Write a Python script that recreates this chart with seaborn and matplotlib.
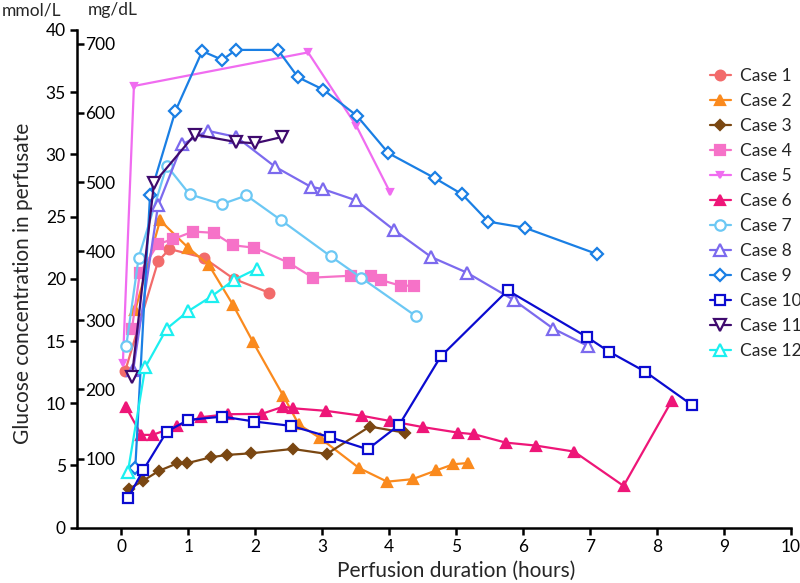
import matplotlib
matplotlib.use("Agg")
import matplotlib.pyplot as plt
import seaborn as sns
import pandas as pd

sns.set_style("white")
plt.rcParams['font.family'] = ['Lato', 'DejaVu Sans']

case_names = [f"Case {i}" for i in range(1, 13)]

case1_x = [0.06, 0.55, 0.72, 1.23, 1.68, 2.20]
case1_y = [12.6, 21.4, 22.4, 21.7, 20.0, 18.9]
case2_x = [0.21, 0.58, 1.0, 1.31, 1.67, 1.97, 2.42, 2.65, 2.97, 3.55, 3.97, 4.35, 4.70, 4.96, 5.18]
case2_y = [17.5, 24.7, 22.5, 21.1, 17.9, 14.9, 10.6, 8.3, 7.2, 4.8, 3.7, 3.9, 4.6, 5.1, 5.2]
case3_x = [0.11, 0.32, 0.56, 0.84, 0.98, 1.34, 1.58, 1.94, 2.56, 3.07, 3.71, 4.23]
case3_y = [3.1, 3.75, 4.56, 5.18, 5.18, 5.66, 5.85, 5.98, 6.33, 5.93, 8.13, 7.64]
case4_x = [0.16, 0.28, 0.55, 0.78, 1.07, 1.38, 1.67, 1.99, 2.50, 2.86, 3.43, 3.73, 3.88, 4.17, 4.37]
case4_y = [16.0, 20.5, 22.8, 23.2, 23.8, 23.7, 22.7, 22.5, 21.3, 20.1, 20.25, 20.25, 19.9, 19.45, 19.45]
case5_x = [0.025, 0.19, 2.79, 3.51, 4.01]
case5_y = [13.2, 35.5, 38.2, 32.3, 27.0]
case6_x = [0.07, 0.30, 0.47, 0.84, 1.19, 1.59, 2.10, 2.42, 2.56, 3.06, 3.59, 4.01, 4.51, 5.03, 5.27, 5.74, 6.19, 6.76, 7.50, 8.22]
case6_y = [9.7, 7.46, 7.46, 8.18, 8.88, 9.12, 9.15, 9.73, 9.6, 9.39, 9.0, 8.58, 8.08, 7.64, 7.51, 6.84, 6.6, 6.12, 3.36, 10.2]
case7_x = [0.075, 0.26, 0.68, 1.02, 1.50, 1.87, 2.39, 3.13, 3.58, 4.40]
case7_y = [14.6, 21.7, 29.1, 26.8, 26.0, 26.7, 24.7, 21.8, 20.1, 17.0]
case8_x = [0.18, 0.55, 0.91, 1.29, 1.72, 2.30, 2.83, 3.02, 3.51, 4.08, 4.63, 5.16, 5.86, 6.45, 6.97]
case8_y = [12.7, 25.9, 30.8, 31.9, 31.4, 29.0, 27.4, 27.2, 26.3, 23.9, 21.75, 20.5, 18.3, 16.0, 14.6]
case9_x = [0.21, 0.43, 0.81, 1.21, 1.51, 1.71, 2.34, 2.64, 3.02, 3.52, 3.99, 4.68, 5.09, 5.48, 6.03, 7.10]
case9_y = [4.78, 26.7, 33.5, 38.3, 37.6, 38.4, 38.4, 36.2, 35.2, 33.1, 30.1, 28.1, 26.8, 24.6, 24.1, 22.0]
case10_x = [0.10, 0.33, 0.68, 1.0, 1.51, 1.99, 2.54, 3.12, 3.68, 4.15, 4.77, 5.77, 6.96, 7.28, 7.82, 8.52]
case10_y = [2.36, 4.64, 7.72, 8.66, 8.93, 8.53, 8.18, 7.27, 6.3, 8.26, 13.76, 19.07, 15.3, 14.16, 12.55, 9.87]
case11_x = [0.16, 0.49, 1.10, 1.71, 2.0, 2.40]
case11_y = [12.15, 27.7, 31.6, 31.0, 30.9, 31.4]
case12_x = [0.10, 0.36, 0.68, 1.0, 1.35, 1.68, 2.02]
case12_y = [4.5, 12.9, 16.0, 17.4, 18.6, 19.9, 20.8]

xs = [case1_x, case2_x, case3_x, case4_x, case5_x, case6_x,
      case7_x, case8_x, case9_x, case10_x, case11_x, case12_x]
ys = [case1_y, case2_y, case3_y, case4_y, case5_y, case6_y,
      case7_y, case8_y, case9_y, case10_y, case11_y, case12_y]

colors = ['#F26B6B', '#FA8A1E', '#7A4712', '#F672C8', '#F06CF0', '#EE1678',
          '#6CC8F4', '#7C6AEE', '#1A7FE4', '#0B0BD0', '#3F0A6E', '#1CEFF0']
markers = ['o', '^', 'D', 's', 'v', '^', 'o', '^', 'D', 's', 'v', '^']
filled = [True] * 6 + [False] * 6
msizes = [7, 7, 5, 6.5, 5, 7, 7.5, 8, 6.5, 7, 8, 8]

fig = plt.figure(figsize=(8, 5.83), dpi=100)
ax = fig.add_axes([77 / 800, 1 - 527.7 / 583, (791 - 77) / 800, (527.7 - 30) / 583])

for name, x, y, c, m, f, ms in zip(case_names, xs, ys, colors, markers, filled, msizes):
    df = pd.DataFrame({"x": x, "y": y})
    sns.lineplot(data=df, x="x", y="y", ax=ax, color=c, marker=m, markersize=ms,
                 markerfacecolor=c if f else 'white', markeredgecolor=c,
                 markeredgewidth=1.6, linewidth=1.6, sort=False, errorbar=None,
                 label=name)

ax.set_xlim(-0.66, 10)
ax.set_ylim(0, 40)
ax.set_xticks(range(0, 11))
ax.set_yticks(range(0, 41, 5))
for s in ['top', 'right']:
    ax.spines[s].set_visible(False)
for s in ['left', 'bottom']:
    ax.spines[s].set_linewidth(1.8)
    ax.spines[s].set_color('black')
ax.tick_params(axis='both', direction='out', length=5, width=1.8, labelsize=12.5,
               colors='black', left=True, bottom=True, pad=3)
ax.set_xlabel("Perfusion duration (hours)", fontsize=15)
ax.xaxis.set_label_coords((456 - 77) / (791 - 77), -0.066)
ax.set_ylabel("Glucose concentration in perfusate", fontsize=15)
ax.yaxis.set_label_coords(-0.062, 0.49)

ax2 = ax.twinx()
ax2.set_ylim(0, 40 * 18)
ax2.set_yticks(range(100, 701, 100))
ax2.spines['right'].set_position(('axes', 0))
ax2.spines['right'].set_visible(False)
for s in ['top', 'left', 'bottom']:
    ax2.spines[s].set_visible(False)
ax2.tick_params(axis='y', direction='out', length=5, width=1.8, labelsize=12.5,
                right=True, pad=1, colors='black')

fig.text(2 / 800, 1 - 10 / 583, "mmol/L", fontsize=12.5, va='center', ha='left')
fig.text(88 / 800, 1 - 10 / 583, "mg/dL", fontsize=12.5, va='center', ha='left')

leg = ax.legend(loc='upper left', bbox_to_anchor=((710 - 77) / (791 - 77), 1 - (68 - 30) / (527.7 - 30)),
                frameon=False, fontsize=12.5, handlelength=1.2, handletextpad=0.5,
                labelspacing=0.52, borderaxespad=0, borderpad=0)

fig.savefig("out.png", dpi=100)
